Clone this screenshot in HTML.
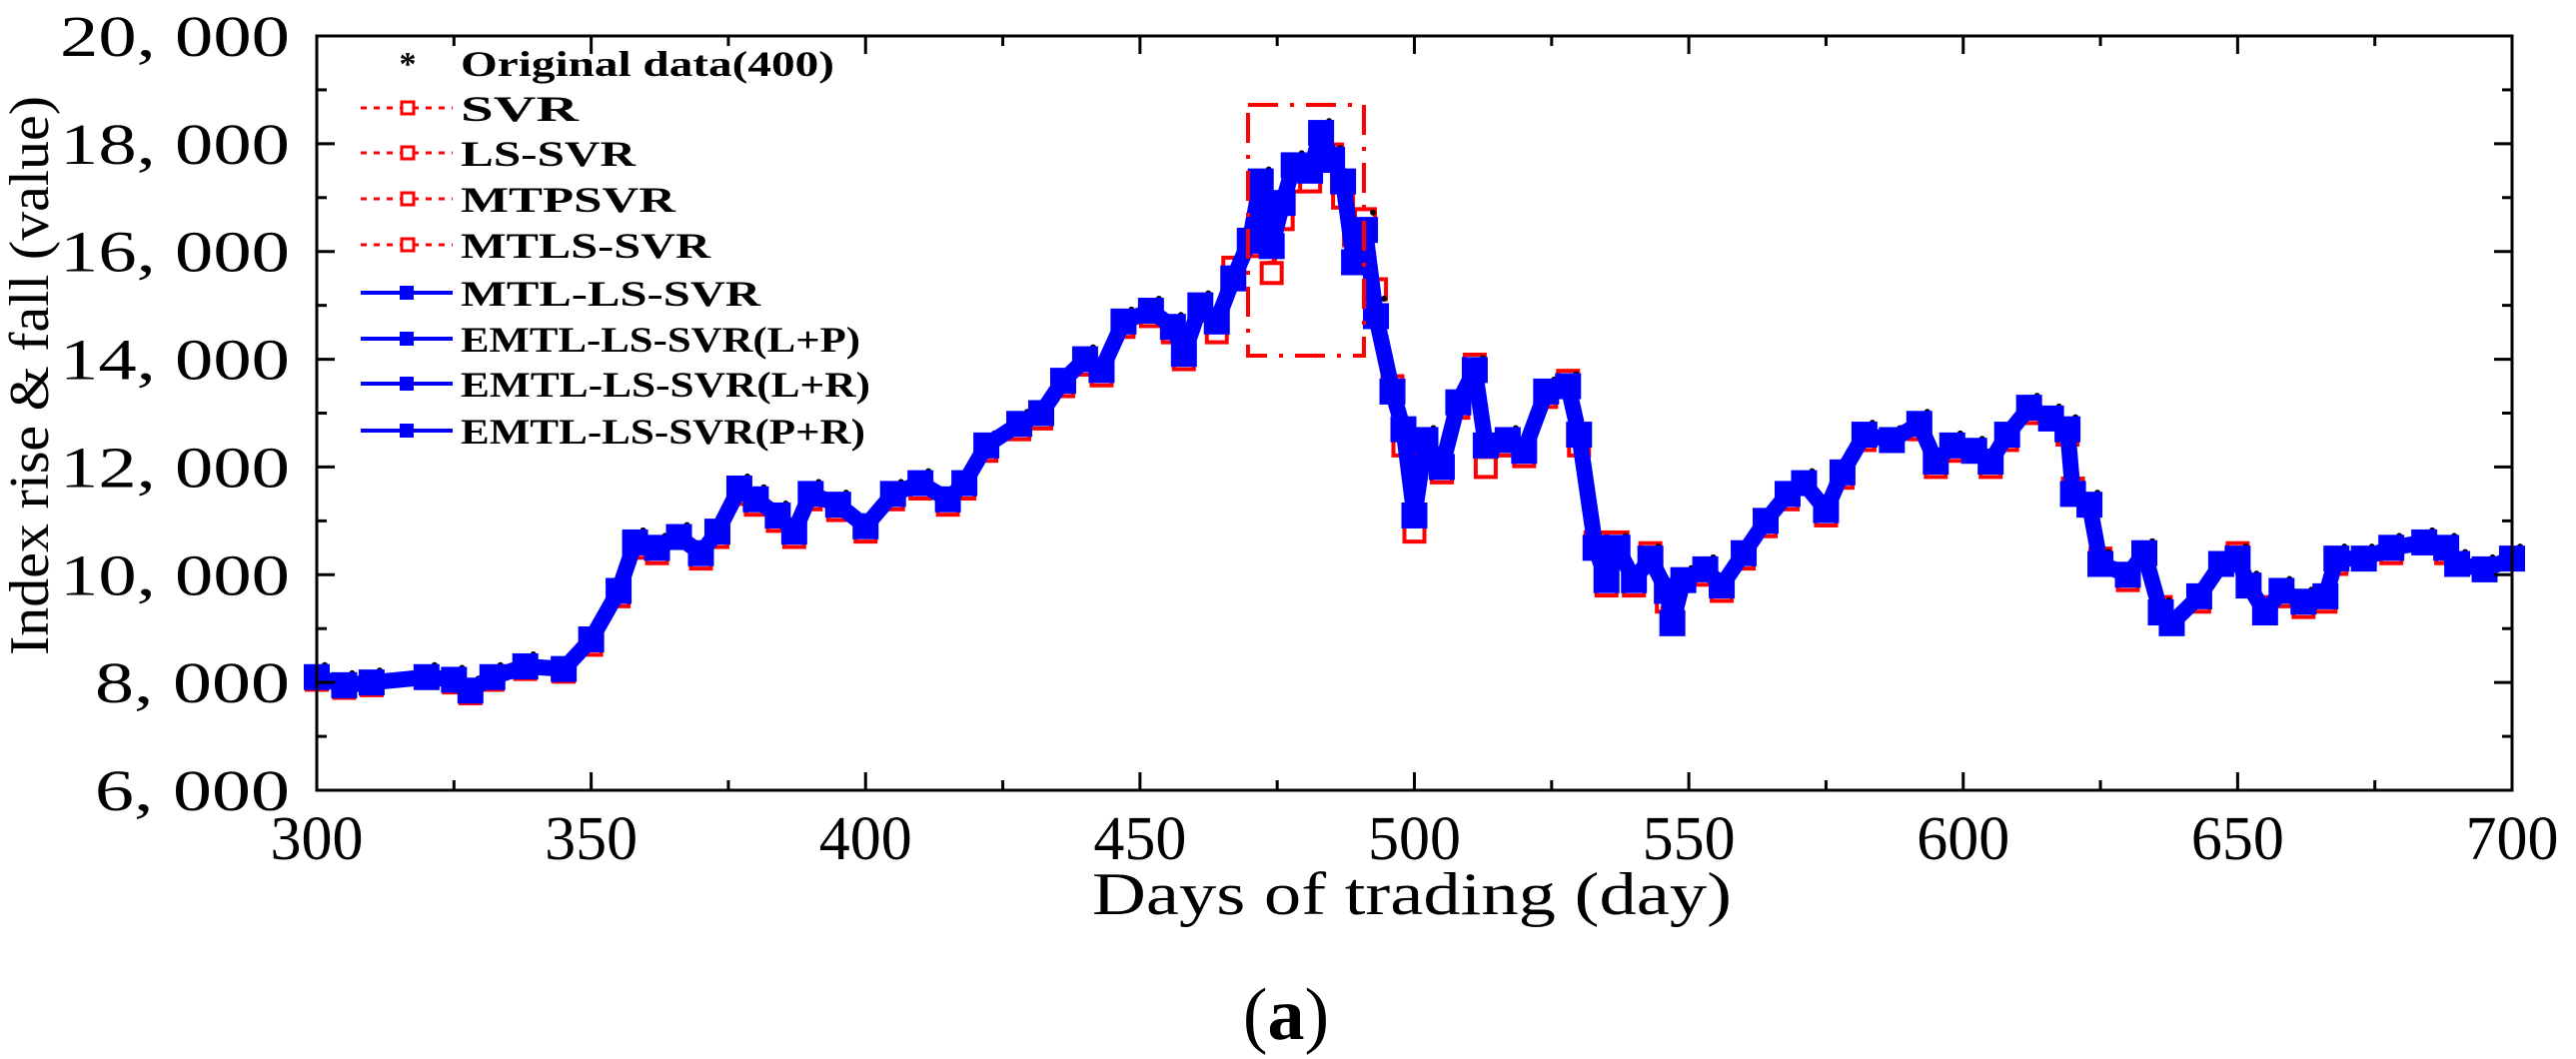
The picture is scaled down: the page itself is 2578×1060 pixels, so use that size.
<!DOCTYPE html>
<html><head><meta charset="utf-8"><style>
html,body{margin:0;padding:0;background:#fff;}
svg{display:block;}
text{font-family:"Liberation Serif",serif;fill:#000;}
</style></head><body>
<svg id="chart" width="2578" height="1060" viewBox="0 0 2578 1060" xmlns="http://www.w3.org/2000/svg">
<g id="marks"></g>
<g id="axes"></g>
<rect x="1249" y="105" width="116" height="251" fill="none" stroke="#f00" stroke-width="4" stroke-dasharray="30,12,4,12"/>
<g id="legend"></g>
<text x="1413" y="915" font-size="60" text-anchor="middle" textLength="640" lengthAdjust="spacingAndGlyphs">Days of trading (day)</text>
<text transform="translate(48,376) rotate(-90)" font-size="56" text-anchor="middle" textLength="560" lengthAdjust="spacingAndGlyphs">Index rise &amp; fall (value)</text>
<text x="1287" y="1040" font-size="74" text-anchor="middle">(<tspan font-weight="bold">a</tspan>)</text>
</svg>
<script>
const days = [300,305,310,320,325,328,332,338,345,350,355,358,362,366,370,373,377,380,384,387,390,395,400,405,410,415,418,422,428,432,436,440,443,447,452,456,458,461,464,467,470,472,474,476,478,481,483,485,487,489,491,493,496,498,500,502,505,508,511,513,517,520,524,528,530,533,535,537,540,543,546,547,549,553,556,560,564,568,571,575,578,582,587,592,595,598,602,605,608,612,616,619,620,623,625,630,633,636,638,643,647,650,652,655,658,662,666,668,673,678,684,688,690,695,700];
const original = [8100,7950,8000,8100,8050,7850,8100,8300,8250,8800,9700,10600,10500,10700,10400,10800,11600,11400,11100,10800,11500,11300,10900,11500,11700,11400,11700,12400,12800,13000,13600,14000,13800,14700,14900,14600,14100,15000,14700,15600,16400,17300,16200,17000,17600,17500,18200,17700,17200,16000,16500,14900,13300,12600,11000,12500,12000,13200,13800,12300,12500,12300,13400,13500,12500,10400,9900,10500,9700,10300,9600,9100,9900,10100,9800,10400,11000,11500,11700,11200,11900,12600,12500,12800,12100,12400,12300,12100,12600,13100,12900,12700,11100,11300,10200,10000,10400,9300,9100,9600,10200,10300,9800,9300,9700,9500,9600,10300,10300,10500,10600,10500,10200,10100,10300];
const svrPred = [8050,7900,7950,8100,8000,7800,8050,8250,8200,8700,9600,10500,10400,10700,10300,10700,11500,11300,11000,10700,11400,11200,10800,11400,11600,11300,11600,12300,12700,12900,13500,13900,13700,14600,14800,14500,14000,14900,14500,15700,16100,17000,15600,16600,17300,17300,18000,17800,17000,16300,16600,15300,13500,12400,10800,12400,11900,13100,13900,12000,12400,12200,13300,13600,12400,10600,9800,10600,9800,10400,9500,9200,9900,10000,9700,10300,10900,11400,11700,11100,11800,12500,12500,12700,12000,12300,12300,12000,12500,13000,12900,12600,11600,11300,10300,9900,10400,9400,9100,9500,10200,10400,9800,9400,9600,9400,9500,10200,10300,10400,10600,10400,10200,10100,10300];
const emtlPred = [8100,7950,8000,8100,8050,7850,8100,8300,8250,8800,9700,10600,10500,10700,10400,10800,11600,11400,11100,10800,11500,11300,10900,11500,11700,11400,11700,12400,12800,13000,13600,14000,13800,14700,14900,14600,14100,15000,14700,15500,16200,17300,16100,16900,17600,17500,18200,17700,17300,15800,16400,14800,13400,12700,11100,12500,12000,13200,13800,12400,12500,12300,13400,13500,12600,10500,9900,10500,9900,10300,9700,9100,9900,10100,9800,10400,11000,11500,11700,11200,11900,12600,12500,12800,12100,12400,12300,12100,12600,13100,12900,12700,11500,11300,10200,10000,10400,9300,9100,9600,10200,10300,9800,9300,9700,9500,9600,10300,10300,10500,10600,10500,10200,10100,10300];
const xTicks = [300,350,400,450,500,550,600,650,700];
const yTicks = [6000,8000,10000,12000,14000,16000,18000,20000];
const yTickLabels = ["6, 000","8, 000","10, 000","12, 000","14, 000","16, 000","18, 000","20, 000"];
const legendLabels = ["Original data(400)","SVR","LS-SVR","MTPSVR","MTLS-SVR","MTL-LS-SVR","EMTL-LS-SVR(L+P)","EMTL-LS-SVR(L+R)","EMTL-LS-SVR(P+R)"];

const NS = "http://www.w3.org/2000/svg";
const L = 317, R = 2514, T = 36, B = 791;
const xs = d => L + (d - 300) / 400 * (R - L);
const ys = v => B - (v - 6000) / 14000 * (B - T);
function mk(tag, attrs, parent) { const e = document.createElementNS(NS, tag); for (const k in attrs) e.setAttribute(k, attrs[k]); parent.appendChild(e); return e; }

const marks = document.getElementById('marks');
const redPts = days.map((d, i) => xs(d) + ',' + ys(svrPred[i])).join(' ');
const redLine = mk('polyline', {points: redPts, fill: 'none', stroke: '#f00', 'stroke-width': 5, 'stroke-dasharray': '6,5'}, marks);


days.forEach((d, i) => {
  const r = mk('rect', {x: xs(d) - 10, y: ys(svrPred[i]) - 10, width: 20, height: 20, fill: '#fff', stroke: '#f00', 'stroke-width': 4}, marks);
  
  
});
days.forEach((d, i) => {
  const c = mk('circle', {cx: xs(d) + 8, cy: ys(original[i]) - 12, r: 3, fill: '#000'}, marks);
  
  
});
const bluePts = days.map((d, i) => xs(d) + ',' + ys(emtlPred[i])).join(' ');
const blueLine = mk('polyline', {points: bluePts, fill: 'none', stroke: '#00f', 'stroke-width': 16, 'stroke-linejoin': 'round'}, marks);


days.forEach((d, i) => {
  const c = mk('rect', {x: xs(d) - 13, y: ys(emtlPred[i]) - 13, width: 26, height: 26, fill: '#00f'}, marks);
  
  
});

const axes = document.getElementById('axes');
const frame = mk('rect', {x: L, y: T, width: R - L, height: B - T, fill: 'none', stroke: '#000', 'stroke-width': 3}, axes);


for (let d = 300; d <= 700; d += 25) {
  const len = d % 50 === 0 ? 18 : 10;
  mk('line', {x1: xs(d), x2: xs(d), y1: B, y2: B - len, stroke: '#000', 'stroke-width': 3}, axes);
  mk('line', {x1: xs(d), x2: xs(d), y1: T, y2: T + len, stroke: '#000', 'stroke-width': 3}, axes);
}
for (let v = 6000; v <= 20000; v += 1000) {
  const len = v % 2000 === 0 ? 18 : 10;
  mk('line', {x1: L, x2: L + len, y1: ys(v), y2: ys(v), stroke: '#000', 'stroke-width': 3}, axes);
  mk('line', {x1: R, x2: R - len, y1: ys(v), y2: ys(v), stroke: '#000', 'stroke-width': 3}, axes);
}
xTicks.forEach(d => {
  const t = mk('text', {x: xs(d), y: 860, 'font-size': 62, 'text-anchor': 'middle'}, axes);
  t.textContent = d;
  
  
});
yTicks.forEach((v, i) => {
  const t = mk('text', {x: 290, y: ys(v) + 20, 'font-size': 58, 'text-anchor': 'end', textLength: yTickLabels[i].length > 6 ? 230 : 195, lengthAdjust: 'spacingAndGlyphs'}, axes);
  t.textContent = yTickLabels[i];
  
  
});

const leg = document.getElementById('legend');
const rowsY = [63,108,153,199,245,293,339,384,431];
const textW = [374,118,175,215,250,300,400,410,405];
legendLabels.forEach((lab, i) => {
  const y = rowsY[i];
  const g = mk('g', {}, leg);
  
  
  if (i === 0) {
    mk('text', {x: 408, y: y + 12, 'font-size': 34, 'text-anchor': 'middle', 'font-weight': 'bold'}, g).textContent = '*';
  } else if (i < 5) {
    mk('line', {x1: 361, x2: 453, y1: y, y2: y, stroke: '#f00', 'stroke-width': 3, 'stroke-dasharray': '6,7'}, g);
    mk('rect', {x: 402, y: y - 6, width: 12, height: 12, fill: '#fff', stroke: '#f00', 'stroke-width': 3}, g);
  } else {
    mk('line', {x1: 361, x2: 453, y1: y, y2: y, stroke: '#00f', 'stroke-width': 4}, g);
    mk('rect', {x: 400, y: y - 7, width: 14, height: 14, fill: '#00f'}, g);
  }
  const t = mk('text', {x: 461, y: y + 13, 'font-size': 36, 'font-weight': 'bold', textLength: textW[i], lengthAdjust: 'spacingAndGlyphs'}, g);
  t.textContent = lab;
});
</script>
</body></html>
